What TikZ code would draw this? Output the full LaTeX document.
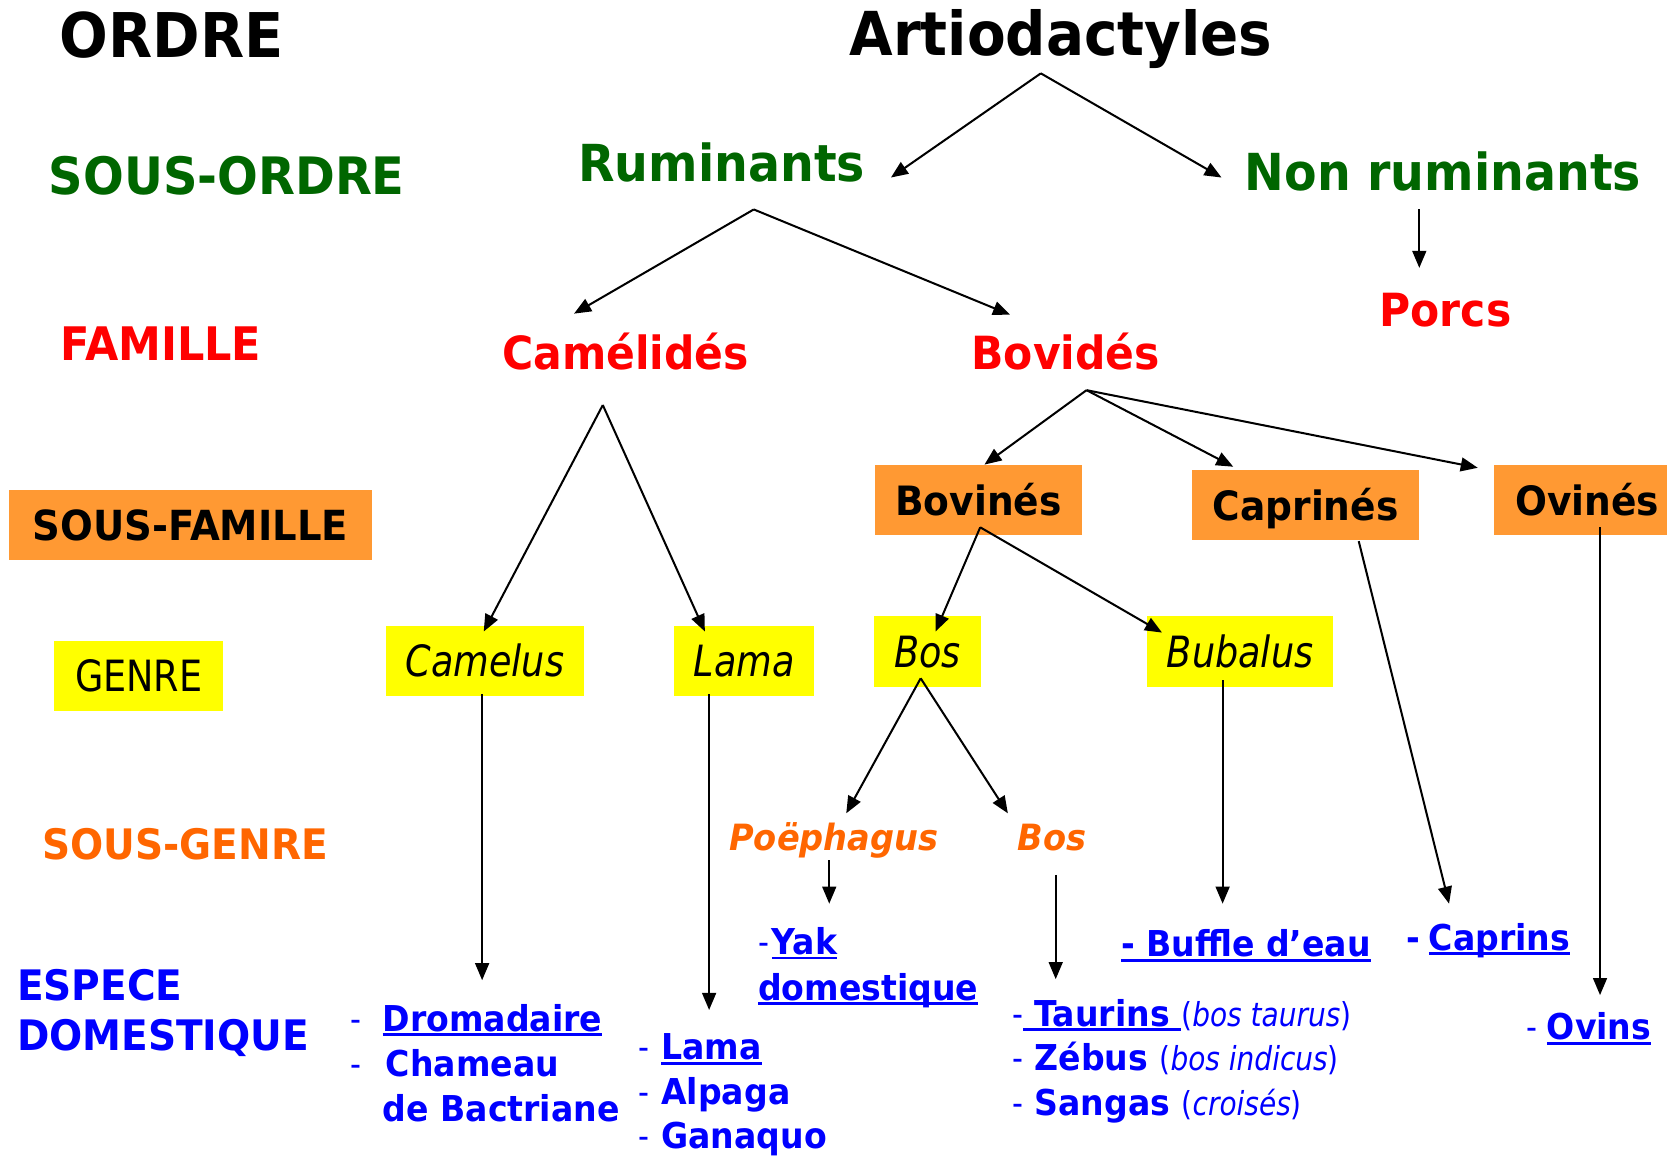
\documentclass[tikz,border=0pt]{standalone}
\usepackage{fontspec}
\setmainfont{DejaVu Sans}[FakeStretch=0.93]
\newfontfamily\regfont{DejaVu Sans}[FakeStretch=0.85]
\usetikzlibrary{arrows.meta}
\definecolor{dgreen}{RGB}{0,102,0}
\definecolor{fred}{RGB}{255,0,0}
\definecolor{boxorange}{RGB}{255,153,51}
\definecolor{gyellow}{RGB}{255,255,0}
\definecolor{sgorange}{RGB}{255,102,0}
\definecolor{eblue}{RGB}{0,0,255}
\newcommand\fs[1]{\fontsize{#1pt}{#1pt}\selectfont}
\newcommand\rg{\regfont\mdseries}
\newsavebox\ulbox
\newcommand\ulx[1]{\sbox\ulbox{#1}\rlap{\rule[-4.5pt]{\wd\ulbox}{2.8pt}}\usebox\ulbox}
\begin{document}
\begin{tikzpicture}[x=1pt,y=-1pt,
  lbl/.style={anchor=base west, inner sep=0pt, outer sep=0pt},
  obox/.style={fill=boxorange, inner sep=0pt, minimum height=66pt, font=\bfseries\fs{38}, text height=27.7pt, text depth=0pt},
  ybox/.style={fill=gyellow, inner sep=0pt, minimum height=66pt, font=\rg\itshape\fs{40.5}, text height=29.5pt, text depth=0pt},
  arr/.style={line width=1.9pt, -{Triangle[length=16pt,width=13pt]}},
  spec/.style={lbl, text=eblue, font=\bfseries\fs{33.5}}]
\useasboundingbox (0,0) rectangle (1568,1089);
\fill[white] (0,0) rectangle (1568,1089);

% ---- rank labels (left column)
\node[lbl, font=\bfseries\fs{58}] (ordre) at (56,54) {ORDRE};
\node[lbl, text=dgreen, font=\bfseries\fs{48.5}] (sordre) at (46,183) {SOUS-ORDRE};
\node[lbl, text=fred, font=\bfseries\fs{43.5}] (famille) at (57,339) {FAMILLE};
\node[obox, minimum width=342pt, font=\bfseries\fs{39}, text height=28.4pt] (sfam) at (179,494) {SOUS-FAMILLE};
\node[ybox, minimum width=159pt, font=\rg\fs{40.5}] (genre) at (130.5,636) {GENRE};
\node[lbl, text=sgorange, font=\bfseries\fs{39.5}] (sgenre) at (40,808) {SOUS-GENRE};
\node[lbl, text=eblue, font=\bfseries\fs{39.5}] (esp1) at (16,941) {ESPECE};
\node[lbl, text=eblue, font=\bfseries\fs{39.5}] (esp2) at (16,988) {DOMESTIQUE};

% ---- tree
\node[lbl, font=\bfseries\fs{57}] (artio) at (799,52) {Artiodactyles};
\node[lbl, text=dgreen, font=\bfseries\fs{48}] (rum) at (544,171) {Ruminants};
\node[lbl, text=dgreen, font=\bfseries\fs{48}] (nonrum) at (1171,179) {Non ruminants};
\node[lbl, text=fred, font=\bfseries\fs{43}] (porcs) at (1297.6,307) {Porcs};
\node[lbl, text=fred, font=\bfseries\fs{43}] (camel) at (472.5,348) {Camélidés};
\node[lbl, text=fred, font=\bfseries\fs{43}] (bovid) at (913.7,348) {Bovidés};

\node[obox, minimum width=194.7pt] (bovin) at (920.4,470.6) {Bovinés};
\node[obox, minimum width=213.7pt] (caprin) at (1228,475.3) {Caprinés};
\node[obox, minimum width=163pt] (ovin) at (1486.8,470.6) {\hspace*{12pt}Ovinés};

\node[ybox, minimum width=186pt] (camelus) at (456,622) {Camelus};
\node[ybox, minimum width=132pt] (lama) at (700,622) {Lama};
\node[ybox, minimum width=100.6pt, minimum height=66.5pt] (bos) at (872.3,612.7) {Bos};
\node[ybox, minimum width=175pt, minimum height=66.5pt] (bubalus) at (1166.5,612.7) {Bubalus};

\node[lbl, text=sgorange, font=\bfseries\itshape\fs{34}] (poe) at (686,800) {Poëphagus};
\node[lbl, text=sgorange, font=\bfseries\itshape\fs{34}] (bossg) at (957,800) {Bos};

% ---- species
\node[spec] (drom) at (330,970) {\makebox[30pt][l]{\rg -}\ulx{Dromadaire}};
\node[spec] (cham) at (330,1013) {\makebox[33pt][l]{\rg -}Chameau};
\node[spec] (bact) at (360,1055) {de Bactriane};
\node[spec] (slama) at (601,997) {\makebox[21pt][l]{\rg -}\ulx{Lama}};
\node[spec] (alpa) at (601,1039) {\makebox[21pt][l]{\rg -}Alpaga};
\node[spec] (gana) at (601,1080) {\makebox[21pt][l]{\rg -}Ganaquo};
\node[spec] (yak) at (713,898) {\makebox[13pt][l]{\rg -}\ulx{Yak}};
\node[spec] (yakd) at (713,941) {\ulx{domestique}};
\node[spec] (taur) at (952,965.7) {{\rg -}\ulx{\ Taurins\ }{\rg\fs{31}(\textit{bos taurus})}};
\node[spec] (zeb) at (952,1006.5) {{\rg -} Zébus {\rg\fs{31}(\textit{bos indicus})}};
\node[spec] (sang) at (952,1049) {{\rg -} Sangas {\rg\fs{31}(\textit{croisés})}};
\node[spec] (buff) at (1054.6,900) {\ulx{- Buffle d’eau}};
\node[spec] (capr) at (1323,893.6) {\makebox[21pt][l]{-}\ulx{Caprins}};
\node[spec] (ovins) at (1436,978) {\makebox[19pt][l]{\rg -}\ulx{Ovins}};

% ---- connector points
\coordinate (aA) at (979,69);
\coordinate (tRum) at (838,167);
\coordinate (tNon) at (1149,167);
\coordinate (sNon) at (1335,197);
\coordinate (tPorc) at (1335,252);
\coordinate (aRum) at (709,197);
\coordinate (tCam) at (540,295);
\coordinate (tBov) at (950,296);
\coordinate (aCam) at (567,381);
\coordinate (tCamelus) at (455,594);
\coordinate (tLama) at (663,594);
\coordinate (aBovd) at (1022,367);
\coordinate (tBovn) at (926,437);
\coordinate (tCapr) at (1160,439);
\coordinate (tOvin) at (1390,440);
\coordinate (aBovn) at (922,496);
\coordinate (tBos) at (880,594);
\coordinate (tBub) at (1093,595);
\coordinate (aBos) at (866,638);
\coordinate (tPoe) at (796,765);
\coordinate (tBossg) at (948,765);
\coordinate (sPoe) at (780,809);
\coordinate (tYak) at (780,850);
\coordinate (sBossg) at (993,823);
\coordinate (tTaur) at (993,921);
\coordinate (sCamelus) at (453.5,653);
\coordinate (tDrom) at (453.5,922);
\coordinate (sLama) at (667,653);
\coordinate (tLamaSp) at (667,950);
\coordinate (sBub) at (1150,640);
\coordinate (tBuff) at (1150,850);
\coordinate (sCapr) at (1278,509);
\coordinate (tCaprins) at (1363,850);
\coordinate (sOvin) at (1505,496);
\coordinate (tOvins) at (1505,936);

\draw[arr] (aA) -- (tRum);
\draw[arr] (aA) -- (tNon);
\draw[arr] (sNon) -- (tPorc);
\draw[arr] (aRum) -- (tCam);
\draw[arr] (aRum) -- (tBov);
\draw[arr] (aCam) -- (tCamelus);
\draw[arr] (aCam) -- (tLama);
\draw[arr] (aBovd) -- (tBovn);
\draw[arr] (aBovd) -- (tCapr);
\draw[arr] (aBovd) -- (tOvin);
\draw[arr] (aBovn) -- (tBos);
\draw[arr] (aBovn) -- (tBub);
\draw[arr] (aBos) -- (tPoe);
\draw[arr] (aBos) -- (tBossg);
\draw[arr] (sPoe) -- (tYak);
\draw[arr] (sBossg) -- (tTaur);
\draw[arr] (sCamelus) -- (tDrom);
\draw[arr] (sLama) -- (tLamaSp);
\draw[arr] (sBub) -- (tBuff);
\draw[arr] (sCapr) -- (tCaprins);
\draw[arr] (sOvin) -- (tOvins);
\end{tikzpicture}
\end{document}
